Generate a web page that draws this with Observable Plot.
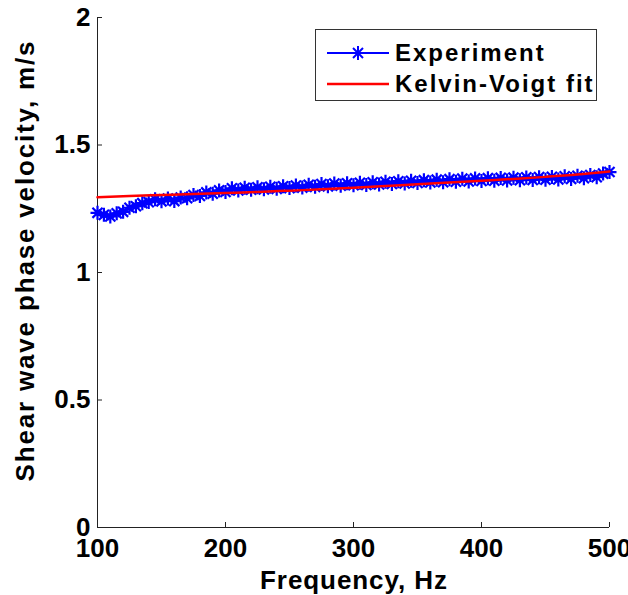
<!DOCTYPE html>
<html>
<head>
<meta charset="utf-8">
<script src="https://cdn.jsdelivr.net/npm/d3@7"></script>
<script src="https://cdn.jsdelivr.net/npm/@observablehq/plot@0.6"></script>
<style>
  body { margin: 0; background: #fff; }
  #wrap { position: relative; width: 628px; height: 595px; font-family: "Liberation Sans", Arial, sans-serif; }
  #plot svg { overflow: visible; }
  #legend { position: absolute; left: 315px; top: 29px; width: 282px; height: 72px; border: 1px solid #333; background: #fff; box-sizing: border-box; }
  .row { position: absolute; left: 0; height: 30px; display: flex; align-items: center; }
  .row span { font-weight: bold; font-size: 24px; letter-spacing: 2px; color: #000; margin-left: 6px; }
</style>
</head>
<body>
<div id="wrap">
  <div id="plot"></div>
  <div id="legend">
    <div class="row" style="top:8px; left:11px;">
      <svg width="62" height="30"><line x1="0" y1="15" x2="62" y2="15" stroke="#0000ff" stroke-width="2"/>
        <g transform="translate(31,15)" stroke="#0000ff" stroke-width="2">
          <line x1="0" y1="-7" x2="0" y2="7"/><line x1="-7" y1="0" x2="7" y2="0"/>
          <line x1="-5" y1="-5" x2="5" y2="5"/><line x1="-5" y1="5" x2="5" y2="-5"/>
        </g></svg>
      <span>Experiment</span>
    </div>
    <div class="row" style="top:39px; left:11px;">
      <svg width="62" height="30"><line x1="0" y1="15" x2="62" y2="15" stroke="#ff0000" stroke-width="2.5"/></svg>
      <span>Kelvin-Voigt fit</span>
    </div>
  </div>
</div>
<script>
// Experiment: frequency (Hz) and shear wave phase velocity (m/s)
const expFreq = [100,105,110,115,120,125,130,135,140,145,150,155,160,165,170,175,180,185,190,195,
  200,205,210,215,220,225,230,235,240,245,250,255,260,265,270,275,280,285,290,295,
  300,305,310,315,320,325,330,335,340,345,350,355,360,365,370,375,380,385,390,395,
  400,405,410,415,420,425,430,435,440,445,450,455,460,465,470,475,480,485,490,495,500];
const expVel = [1.234,1.226,1.220,1.232,1.238,1.254,1.260,1.272,1.276,1.287,1.279,1.290,1.280,1.294,1.291,1.304,1.300,1.314,1.309,1.322,
  1.316,1.330,1.322,1.332,1.325,1.334,1.326,1.336,1.328,1.338,1.331,1.341,1.333,1.344,1.336,1.347,1.338,1.349,1.340,1.350,
  1.342,1.352,1.343,1.354,1.345,1.356,1.347,1.358,1.349,1.360,1.351,1.362,1.353,1.364,1.354,1.366,1.356,1.368,1.357,1.369,
  1.359,1.370,1.360,1.371,1.361,1.372,1.362,1.373,1.363,1.374,1.364,1.375,1.365,1.377,1.367,1.379,1.370,1.382,1.374,1.388,1.394];
// Kelvin-Voigt fit
const fitFreq = [100,125,150,175,200,225,250,275,300,325,350,375,400,425,450,475,500];
const fitVel  = [1.295,1.300,1.304,1.308,1.312,1.316,1.321,1.326,1.332,1.339,1.346,1.353,1.360,1.367,1.375,1.384,1.396];
// Ticks and labels
const xTicks = [100,200,300,400,500];
const yTicks = [0,0.5,1,1.5,2];
const xLabel = "Frequency, Hz";
const yLabel = "Shear wave phase velocity, m/s";

const expData = expFreq.map((f,i) => ({f, v: expVel[i]}));
const fitData = fitFreq.map((f,i) => ({f, v: fitVel[i]}));

const star = {
  draw(ctx, size) {
    const r = Math.sqrt(size / Math.PI), d = r * 0.72;
    ctx.moveTo(0,-r); ctx.lineTo(0,r);
    ctx.moveTo(-r,0); ctx.lineTo(r,0);
    ctx.moveTo(-d,-d); ctx.lineTo(d,d);
    ctx.moveTo(-d,d); ctx.lineTo(d,-d);
  }
};

const chart = Plot.plot({
  width: 628, height: 595,
  marginLeft: 97, marginRight: 19, marginTop: 17, marginBottom: 68,
  style: {fontFamily: "'Liberation Sans', Arial, sans-serif", fontWeight: "bold", fontSize: "26px", color: "#000", background: "#fff", overflow: "visible"},
  x: {domain: [100, 500], label: null},
  y: {domain: [0, 2], label: null},
  marks: [
    Plot.ruleX([100], {stroke: "#222", strokeWidth: 1}),
    Plot.ruleY([0], {stroke: "#222", strokeWidth: 1}),
    Plot.axisX(xTicks, {tickSize: -5, tickPadding: 16, stroke: "#222", fill: "#000", fontSize: 26, fontWeight: "bold", label: null}),
    Plot.axisY(yTicks, {tickSize: -5, tickPadding: 12, stroke: "#222", fill: "#000", fontSize: 26, fontWeight: "bold", label: null, tickFormat: d => String(d)}),
    Plot.line(expData, {x: "f", y: "v", stroke: "#0000ff", strokeWidth: 2}),
    Plot.dot(expData, {x: "f", y: "v", symbol: star, r: 7, stroke: "#0000ff", strokeWidth: 2.2, fill: "none"}),
    Plot.line(fitData, {x: "f", y: "v", stroke: "#ff0000", strokeWidth: 2.5, curve: "natural"}),
    Plot.text([xLabel], {text: d => d, frameAnchor: "bottom", dy: 53, lineAnchor: "middle", fontSize: 26, fontWeight: "bold"}),
    Plot.text([yLabel], {text: d => d, frameAnchor: "left", dx: -72, dy: -11, rotate: -90, textAnchor: "middle", lineAnchor: "middle", fontSize: 26, fontWeight: "bold"})
  ]
});
// Widen the axis titles to match the reference's glyph spacing
d3.select(chart).selectAll("text").each(function() {
  const t = this.textContent;
  if (t === xLabel) { this.setAttribute("textLength", 187); this.setAttribute("lengthAdjust", "spacing"); }
  if (t === yLabel) { this.setAttribute("textLength", 440); this.setAttribute("lengthAdjust", "spacing"); }
});
document.getElementById("plot").appendChild(chart);
</script>
</body>
</html>
